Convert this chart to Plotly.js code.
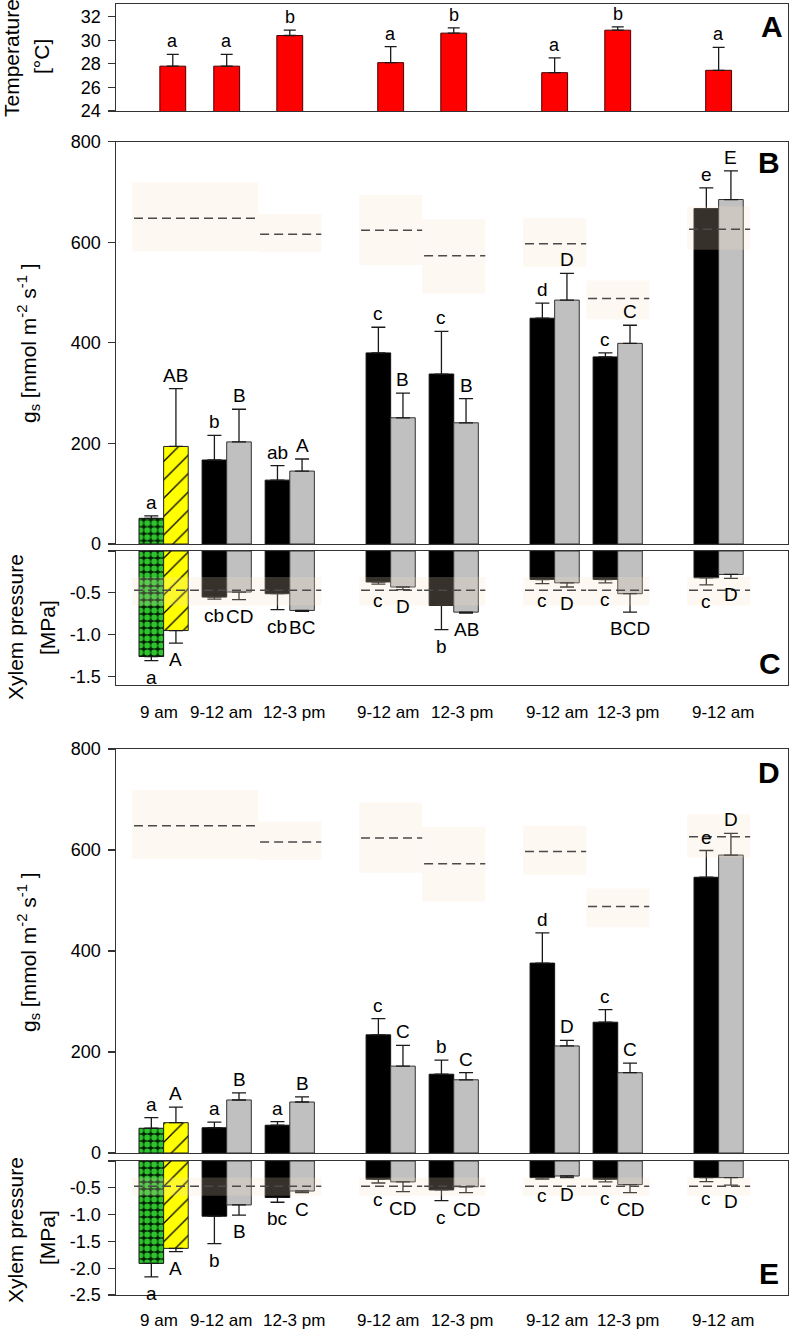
<!DOCTYPE html>
<html><head><meta charset="utf-8">
<script src="https://cdn.plot.ly/plotly-3.0.1.min.js"></script>
<style>html,body{margin:0;padding:0;background:#fff}#chart{width:793px;height:1333px}</style>
</head><body><div id="chart"></div>
<script>
// ---------------- DATA ----------------
const categories = ['9 am','9-12 am','12-3 pm','9-12 am','12-3 pm','9-12 am','12-3 pm','9-12 am'];
const dayIndex   = [0,0,0,1,1,2,2,3];

// Panel A: temperature [°C]
const tempMean = [27.8, 27.8, 30.4, 28.1, 30.6, 27.25, 30.85, 27.45];
const tempErr  = [1.0, 1.0, 0.45, 1.35, 0.45, 1.25, 0.28, 1.95];
const tempLetters = ['a','a','b','a','b','a','b','a'];

// Panel B: gs, first tree (green at 9 am, then black) and second (yellow at 9 am, then gray)
const gsB1 = [51, 167, 127, 380, 338, 449, 372, 667];
const gsB1Err = [5, 49, 29, 51, 85, 30, 8, 41];
const gsB2 = [194, 203, 145, 251, 241, 485, 399, 685];
const gsB2Err = [115, 65, 24, 49, 48, 53, 36, 57];
const gsB1Letters = ['a','b','ab','c','c','d','c','e'];
const gsB2Letters = ['AB','B','A','B','B','D','C','E'];

// Panel C: xylem pressure [MPa]
const psiC1 = [-1.26, -0.55, -0.51, -0.37, -0.65, -0.34, -0.34, -0.32];
const psiC1Err = [0.05, 0.025, 0.19, 0.025, 0.29, 0.05, 0.04, 0.085];
const psiC2 = [-0.95, -0.49, -0.71, -0.43, -0.73, -0.38, -0.51, -0.28];
const psiC2Err = [0.15, 0.09, 0.012, 0.03, 0.012, 0.05, 0.22, 0.047];
const psiC1Letters = ['a','cb','cb','c','b','c','c','c'];
const psiC2Letters = ['A','CD','BC','D','AB','D','BCD','D'];

// Panel D: gs
const gsD1 = [49, 50, 55, 234, 156, 376, 259, 546];
const gsD1Err = [21, 11, 7, 32, 28, 60, 25, 53];
const gsD2 = [60, 105, 101, 172, 145, 212, 159, 590];
const gsD2Err = [31, 14, 10, 41, 14, 11, 19, 43];
const gsD1Letters = ['a','a','a','c','b','d','c','e'];
const gsD2Letters = ['A','B','B','C','C','D','C','D'];

// Panel E: xylem pressure
const psiE1 = [-1.91, -1.03, -0.68, -0.34, -0.54, -0.31, -0.34, -0.31];
const psiE1Err = [0.25, 0.51, 0.09, 0.07, 0.2, 0.03, 0.05, 0.075];
const psiE2 = [-1.63, -0.82, -0.56, -0.39, -0.48, -0.28, -0.44, -0.31];
const psiE2Err = [0.06, 0.19, 0.03, 0.18, 0.11, 0.03, 0.15, 0.14];
const psiE1Letters = ['a','b','bc','c','c','c','c','c'];
const psiE2Letters = ['A','B','C','CD','CD','D','CD','D'];

// Reference (control) bands: which slots each covers, mean and range
const refFirst = [0, 2, 3, 4, 5, 6, 7];
const refLast  = [1, 2, 3, 4, 5, 6, 7];
const refGsMean = [648, 616, 624, 573, 597, 488, 626];
const refGsLow  = [582, 580, 555, 498, 551, 447, 585];
const refGsHigh = [719, 656, 694, 646, 648, 524, 671];
const refPsiMean = [-0.47, -0.47, -0.47, -0.47, -0.47, -0.47, -0.47];
const refPsiLow  = [-0.65, -0.65, -0.65, -0.65, -0.65, -0.65, -0.65];
const refPsiHigh = [-0.31, -0.31, -0.31, -0.31, -0.31, -0.31, -0.31];

// ---------------- LAYOUT HELPERS ----------------
const W = 793, H = 1333;
const FONT = '"Liberation Sans", Arial, Helvetica, sans-serif';
const pos = dayIndex.map((d, i) => i + d * 0.6);
const XL = 115.7, XR = 788;
const xRange = [-0.76, 9.9];
const py = p => 1 - p / H;
const px = p => p / W;
const BW = 0.39;
const tempOffset = tempMean.map((v, i) => i === 0 ? -0.06 : -0.205);
const labelShift = [-5, -6, 4, -3, 8, 2, 10, 4];   // small horizontal nudges of the time labels (px)

const panels = [
  {id:'', top:4,     bot:111,  range:[24, 33.07], tickvals:[24,26,28,30,32], ticktext:['24','26','28','30','32']},
  {id:'2', top:141.7, bot:544,  range:[0, 800], tickvals:[0,200,400,600,800], ticktext:['0','200','400','600','800']},
  {id:'3', top:551,   bot:685,  range:[-1.6, 0], tickvals:[-1.5,-1,-0.5,0], ticktext:['-1.5','-1.0','-0.5',' ']},
  {id:'4', top:749,   bot:1153, range:[0, 800], tickvals:[0,200,400,600,800], ticktext:['0','200','400','600','800']},
  {id:'5', top:1161,  bot:1295, range:[-2.5, 0], tickvals:[-2.5,-2,-1.5,-1,-0.5,0], ticktext:['-2.5','-2.0','-1.5','-1.0','-0.5',' ']}
];

const layout = {
  width: W, height: H,
  margin: {l:0, r:0, t:0, b:0},
  paper_bgcolor: '#fff', plot_bgcolor: 'rgba(0,0,0,0)',
  showlegend: false,
  font: {family: FONT, color: '#000'},
  barmode: 'overlay',
  annotations: [], shapes: []
};

panels.forEach(p => {
  layout['xaxis' + p.id] = {
    domain: [px(XL), px(XR)], range: xRange, anchor: 'y' + p.id,
    showline: true, mirror: true, linecolor: '#333', linewidth: 1.2,
    ticks: '', showticklabels: false, showgrid: false, zeroline: false, fixedrange: true
  };
  layout['yaxis' + p.id] = {
    domain: [py(p.bot), py(p.top)], range: p.range, anchor: 'x' + p.id,
    showline: true, mirror: true, linecolor: '#333', linewidth: 1.2,
    ticks: 'outside', ticklen: 7, tickwidth: 1.2, tickcolor: '#333',
    tickvals: p.tickvals, ticktext: p.ticktext, ticklabelstandoff: 3,
    tickfont: {size: 18, family: FONT, color: '#000'},
    showgrid: false, zeroline: false, fixedrange: true
  };
});

// ---------------- TRACES ----------------
const zeros = tempMean.map(() => 0);
const errStyle = {type: 'data', symmetric: false, color: '#1a1a1a', thickness: 1.3, width: 7};

const traces = [];
traces.push({
  type: 'bar', x: pos, y: tempMean, xaxis: 'x', yaxis: 'y',
  width: 0.41, offset: tempOffset,
  marker: {color: '#ff0000', line: {color: '#4a0000', width: 1}},
  error_y: Object.assign({}, errStyle, {array: tempErr, arrayminus: zeros, width: 6}),
  hoverinfo: 'skip'
});

// styles: [first-slot style, remaining-slot style] for each of the two series
const series1Style = [
  {color: '#052205', line: {color: '#111', width: 1},
   pattern: {shape: '.', fgcolor: '#2ec42e', fgopacity: 1, size: 7, solidity: 0.6, fillmode: 'overlay'}},
  {color: '#000000', line: {color: '#111', width: 1}}
];
const series2Style = [
  {color: '#ffff00', line: {color: '#222', width: 1},
   pattern: {shape: '/', fgcolor: '#000000', fgopacity: 1, size: 13, solidity: 0.1, fillmode: 'overlay'}},
  {color: '#c0c0c0', line: {color: '#333', width: 1}}
];

function addBars(id, v, e, style, off, neg, from, to) {
  const xs = pos.slice(from, to), ys = v.slice(from, to), es = e.slice(from, to), z = zeros.slice(from, to);
  traces.push({
    type: 'bar', x: xs, y: ys, xaxis: 'x' + id, yaxis: 'y' + id,
    width: BW, offset: off, marker: style,
    error_y: Object.assign({}, errStyle, neg ? {array: z, arrayminus: es} : {array: es, arrayminus: z}),
    hoverinfo: 'skip'
  });
}
function pairTraces(id, v1, e1, v2, e2, neg) {
  addBars(id, v1, e1, series1Style[0], -BW, neg, 0, 1);
  addBars(id, v1, e1, series1Style[1], -BW, neg, 1, v1.length);
  addBars(id, v2, e2, series2Style[0], 0, neg, 0, 1);
  addBars(id, v2, e2, series2Style[1], 0, neg, 1, v2.length);
}
pairTraces('2', gsB1, gsB1Err, gsB2, gsB2Err, false);
pairTraces('3', psiC1, psiC1Err, psiC2, psiC2Err, true);
pairTraces('4', gsD1, gsD1Err, gsD2, gsD2Err, false);
pairTraces('5', psiE1, psiE1Err, psiE2, psiE2Err, true);

// ---------------- REFERENCE BANDS ----------------
function bands(id, mean, lo, hi) {
  refFirst.forEach((f, k) => {
    const x0 = pos[f] - 0.5, x1 = pos[refLast[k]] + 0.5;
    layout.shapes.push({type: 'rect', xref: 'x' + id, yref: 'y' + id, x0: x0, x1: x1, y0: lo[k], y1: hi[k],
      fillcolor: 'rgba(245,222,195,0.22)', line: {width: 0}, layer: 'above'});
    layout.shapes.push({type: 'line', xref: 'x' + id, yref: 'y' + id, x0: x0 + 0.03, x1: x1, y0: mean[k], y1: mean[k],
      line: {color: '#4a4a4a', width: 1.5, dash: '9px,5px'}, layer: 'above'});
  });
}
bands('2', refGsMean, refGsLow, refGsHigh);
bands('3', refPsiMean, refPsiLow, refPsiHigh);
bands('4', refGsMean, refGsLow, refGsHigh);
bands('5', refPsiMean, refPsiLow, refPsiHigh);

// ---------------- LETTERS ----------------
function letter(id, x, y, t, above, size) {
  layout.annotations.push({xref: 'x' + id, yref: 'y' + id, x: x, y: y, text: t, showarrow: false,
    xanchor: 'center', yanchor: above ? 'bottom' : 'top', yshift: above ? 1 : -4,
    font: {family: FONT, size: size || 19, color: '#000'}});
}
tempLetters.forEach((t, i) => letter('', pos[i] + tempOffset[i] + 0.205, tempMean[i] + tempErr[i], t, true, 18));
function pairLetters(id, v1, e1, l1, v2, e2, l2, neg) {
  l1.forEach((t, i) => letter(id, pos[i] - BW / 2, neg ? v1[i] - e1[i] : v1[i] + e1[i], t, !neg));
  l2.forEach((t, i) => letter(id, pos[i] + BW / 2, neg ? v2[i] - e2[i] : v2[i] + e2[i], t, !neg));
}
pairLetters('2', gsB1, gsB1Err, gsB1Letters, gsB2, gsB2Err, gsB2Letters, false);
pairLetters('3', psiC1, psiC1Err, psiC1Letters, psiC2, psiC2Err, psiC2Letters, true);
pairLetters('4', gsD1, gsD1Err, gsD1Letters, gsD2, gsD2Err, gsD2Letters, false);
pairLetters('5', psiE1, psiE1Err, psiE1Letters, psiE2, psiE2Err, psiE2Letters, true);

// ---------------- CATEGORY LABELS ----------------
[713, 1320].forEach((yy, n) => {
  const xa = n === 0 ? 'x3' : 'x5';
  categories.forEach((c, i) => layout.annotations.push({xref: xa, yref: 'paper', x: pos[i], y: py(yy), text: c,
    showarrow: false, xanchor: 'center', yanchor: 'middle', xshift: labelShift[i],
    font: {family: FONT, size: 17, color: '#000'}}));
});

// ---------------- AXIS TITLES & PANEL LETTERS ----------------
function ptext(x, y, t, size, angle, bold) {
  layout.annotations.push({xref: 'paper', yref: 'paper', x: px(x), y: py(y), text: bold ? '<b>' + t + '</b>' : t,
    showarrow: false, xanchor: 'center', yanchor: 'middle', textangle: angle,
    font: {family: FONT, size: size, color: '#000'}});
}
const gsTitle = 'g<sub>s</sub> [mmol m<sup>-2</sup> s<sup>-1</sup> ]';
ptext(12, 58, 'Temperature', 21, -90);
ptext(41, 57, '[°C]', 21, -90);
ptext(28, 343, gsTitle, 21, -90);
ptext(15, 627, 'Xylem pressure', 21, -90);
ptext(47, 628, '[MPa]', 21, -90);
ptext(28, 952, gsTitle, 21, -90);
ptext(15, 1230, 'Xylem pressure', 21, -90);
ptext(47, 1238, '[MPa]', 21, -90);

ptext(772, 27, 'A', 30, 0, true);
ptext(769, 163, 'B', 30, 0, true);
ptext(770, 663, 'C', 30, 0, true);
ptext(769, 772, 'D', 30, 0, true);
ptext(769, 1273, 'E', 30, 0, true);

Plotly.newPlot('chart', traces, layout, {staticPlot: true, displayModeBar: false});
</script>
</body></html>
